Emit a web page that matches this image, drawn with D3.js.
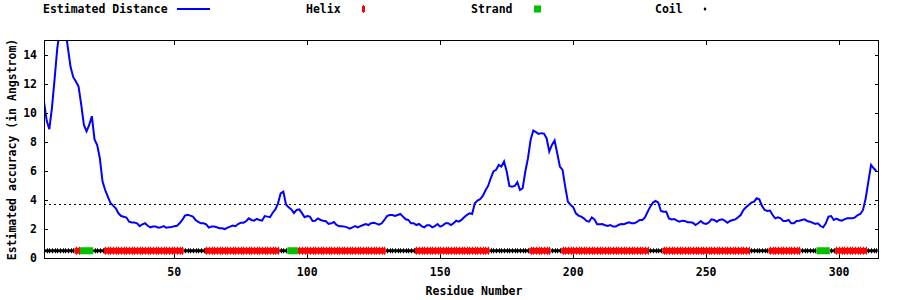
<!DOCTYPE html>
<html>
<head>
<meta charset="UTF-8">
<title>Estimated accuracy</title>
<script src="https://d3js.org/d3.v7.min.js"></script>
<style>
    body, html { margin: 0; padding: 0; background: #fff; }
    text { font-family: "DejaVu Sans Mono", monospace; font-size: 11.5px; font-weight: bold; fill: #000; }
</style>
</head>
<body>
<div id="chart"></div>
<script>
    // estimated distance per residue (residue 1..314)
    const distance = [
        10.8, 9.5, 8.9, 10.4, 12.4, 14.5, 15.8, 16.5, 15.8, 14.5,
        13.2, 12.5, 12.2, 11.85, 10.6, 9.2, 8.75, 9.2, 9.8, 8.2,
        7.8, 6.9, 5.3, 4.7, 4.25, 3.8, 3.62, 3.44, 3.09, 2.9,
        2.85, 2.8, 2.51, 2.45, 2.45, 2.4, 2.2, 2.33, 2.4, 2.23,
        2.12, 2.17, 2.17, 2.1, 2.12, 2.2, 2.1, 2.12, 2.14, 2.2,
        2.23, 2.4, 2.63, 2.93, 2.98, 2.93, 2.86, 2.63, 2.5, 2.4,
        2.4, 2.33, 2.1, 2.17, 2.17, 2.12, 2.06, 2.06, 2.0, 2.1,
        2.17, 2.24, 2.2, 2.35, 2.44, 2.44, 2.54, 2.74, 2.63, 2.58,
        2.7, 2.63, 2.58, 2.9, 2.86, 2.82, 3.13, 3.36, 3.78, 4.47,
        4.59, 3.7, 3.5, 3.36, 3.1, 3.33, 3.36, 3.1, 2.82, 2.9,
        2.86, 2.56, 2.58, 2.74, 2.63, 2.58, 2.54, 2.35, 2.4, 2.49,
        2.28, 2.2, 2.2, 2.17, 2.12, 2.03, 2.12, 2.2, 2.12, 2.2,
        2.28, 2.35, 2.28, 2.4, 2.44, 2.38, 2.3, 2.4, 2.63, 2.9,
        2.97, 2.97, 2.9, 2.97, 3.04, 2.86, 2.68, 2.63, 2.4, 2.4,
        2.28, 2.35, 2.21, 2.12, 2.26, 2.26, 2.12, 2.21, 2.35, 2.17,
        2.26, 2.4, 2.4, 2.28, 2.4, 2.58, 2.51, 2.63, 2.81, 2.97,
        3.09, 3.04, 3.78, 3.97, 4.06, 4.29, 4.66, 4.98, 5.51, 5.98,
        6.09, 6.43, 6.32, 6.67, 5.98, 4.98, 4.93, 4.98, 5.24, 4.7,
        4.82, 5.98, 6.9, 8.17, 8.81, 8.7, 8.58, 8.63, 8.6, 8.28,
        7.36, 7.82, 8.12, 7.24, 6.32, 6.09, 4.93, 3.9, 3.67, 3.51,
        3.09, 2.93, 2.86, 2.74, 2.56, 2.51, 2.81, 2.67, 2.33, 2.33,
        2.35, 2.26, 2.21, 2.28, 2.17, 2.17, 2.28, 2.35, 2.33, 2.4,
        2.47, 2.4, 2.4, 2.49, 2.63, 2.63, 2.81, 3.2, 3.55, 3.83,
        3.94, 3.83, 3.25, 3.2, 3.2, 2.74, 2.67, 2.7, 2.58, 2.51,
        2.58, 2.56, 2.47, 2.47, 2.44, 2.28, 2.4, 2.56, 2.4, 2.35,
        2.45, 2.67, 2.63, 2.51, 2.63, 2.67, 2.58, 2.44, 2.56, 2.63,
        2.67, 2.81, 2.97, 3.32, 3.51, 3.67, 3.83, 3.9, 4.13, 4.06,
        3.6, 3.32, 3.25, 3.28, 2.97, 2.74, 2.81, 2.74, 2.56, 2.56,
        2.63, 2.4, 2.4, 2.56, 2.58, 2.63, 2.67, 2.56, 2.51, 2.44,
        2.35, 2.4, 2.21, 2.12, 2.4, 2.86, 2.9, 2.63, 2.72, 2.63,
        2.58, 2.67, 2.74, 2.74, 2.74, 2.81, 2.97, 3.04, 3.32, 4.13,
        5.28, 6.43, 6.2, 6.02
    ];

    // secondary structure segments: H helix, E strand, C coil
    const ssType  = ["C", "H", "E", "C", "H", "C", "H", "C", "E", "H", "C", "H", "C", "H", "C", "H", "C", "H", "C", "H", "C", "E", "C", "H", "C"];
    const ssStart = [1,   13,  15,  20,  24,  54,  62,  90,  93,  97,  130, 141, 169, 184, 192, 196, 229, 234, 267, 274, 286, 292, 297, 299, 311];
    const ssEnd   = [12,  14,  19,  23,  53,  61,  89,  92,  96,  129, 140, 168, 183, 191, 195, 228, 233, 266, 273, 285, 291, 296, 298, 310, 314];
    const ssLevel = 0.5;

    const threshold = 3.72;
    const xTicks = [50, 100, 150, 200, 250, 300];
    const yTicks = [0, 2, 4, 6, 8, 10, 12, 14];
    const xDomain = [1, 315];
    const yDomain = [0, 15];

    const width = 900, height = 300;
    const plotLeft = 44, plotRight = 879, plotTop = 41, plotBottom = 258;

    const svg = d3.select("#chart").append("svg")
        .attr("width", width)
        .attr("height", height);

    const x = d3.scaleLinear().domain(xDomain).range([plotLeft, plotRight]);
    const y = d3.scaleLinear().domain(yDomain).range([plotBottom, plotTop]);

    svg.append("clipPath").attr("id", "plotClip")
        .append("rect")
        .attr("x", plotLeft).attr("y", plotTop)
        .attr("width", plotRight - plotLeft).attr("height", plotBottom - plotTop);

    // ticks (inward, mirrored)
    const tickLen = 4;
    const ticks = svg.append("g").attr("stroke", "#000").attr("stroke-width", 1).attr("shape-rendering", "crispEdges");
    yTicks.forEach(t => {
        const yy = Math.round(y(t)) + 0.5;
        ticks.append("line").attr("x1", plotLeft).attr("x2", plotLeft + tickLen).attr("y1", yy).attr("y2", yy);
        ticks.append("line").attr("x1", plotRight - tickLen).attr("x2", plotRight).attr("y1", yy).attr("y2", yy);
        svg.append("text").attr("x", 37).attr("y", y(t)).attr("dy", "0.35em")
            .attr("text-anchor", "end").text(t);
    });
    xTicks.forEach(t => {
        const xx = Math.round(x(t)) + 0.5;
        ticks.append("line").attr("x1", xx).attr("x2", xx).attr("y1", plotBottom).attr("y2", plotBottom - tickLen);
        ticks.append("line").attr("x1", xx).attr("x2", xx).attr("y1", plotTop).attr("y2", plotTop + tickLen);
        svg.append("text").attr("x", x(t)).attr("y", 272).attr("dy", "0.35em")
            .attr("text-anchor", "middle").text(t);
    });

    const plot = svg.append("g").attr("clip-path", "url(#plotClip)");

    // threshold dotted line
    plot.append("line")
        .attr("x1", plotLeft).attr("x2", plotRight)
        .attr("y1", Math.round(y(threshold)) + 0.5).attr("y2", Math.round(y(threshold)) + 0.5)
        .attr("stroke", "#000").attr("stroke-width", 1)
        .attr("stroke-dasharray", "2,3")
        .attr("shape-rendering", "crispEdges");

    // secondary structure track
    const ssColor = { H: "#ff0000", E: "#00c000", C: "#000000" };
    const ssBand = { H: 6, E: 7, C: 3 };
    const ssMark = { H: 8, E: 7, C: 5 };
    const yss = y(ssLevel);
    const segs = ssType.map((t, i) => ({ type: t, start: ssStart[i], end: ssEnd[i] }));
    const ssOrder = ["C", "H", "E"];
    ssOrder.forEach(kind => {
        segs.filter(s => s.type === kind).forEach(s => {
            plot.append("rect")
                .attr("x", x(s.start - 0.5))
                .attr("y", yss - ssBand[kind] / 2)
                .attr("width", x(s.end + 0.5) - x(s.start - 0.5))
                .attr("height", ssBand[kind])
                .attr("fill", ssColor[kind]);
            if (kind !== "E") {
                for (let r = s.start; r <= s.end; r++) {
                    plot.append("rect")
                        .attr("x", Math.round(x(r)))
                        .attr("y", yss - ssMark[kind] / 2)
                        .attr("width", 1)
                        .attr("height", ssMark[kind])
                        .attr("fill", ssColor[kind]);
                }
            }
        });
    });

    // estimated distance line
    const line = d3.line()
        .x((d, i) => x(i + 1))
        .y(d => y(d));
    plot.append("path")
        .datum(distance)
        .attr("d", line)
        .attr("fill", "none")
        .attr("stroke", "#0000ff")
        .attr("stroke-width", 2);

    // frame
    svg.append("rect")
        .attr("x", plotLeft + 0.5).attr("y", plotTop - 0.5)
        .attr("width", plotRight - plotLeft - 1).attr("height", plotBottom - plotTop + 1)
        .attr("fill", "none").attr("stroke", "#000").attr("stroke-width", 1)
        .attr("shape-rendering", "crispEdges");

    // axis labels
    svg.append("text").attr("x", 474).attr("y", 291).attr("dy", "0.35em")
        .attr("text-anchor", "middle").text("Residue Number");
    svg.append("text")
        .attr("transform", "translate(12," + ((plotTop + plotBottom) / 2) + ") rotate(-90)")
        .attr("dy", "0.35em")
        .attr("text-anchor", "middle").text("Estimated accuracy (in Angstrom)");

    // legend
    const legY = 9;
    const legend = svg.append("g");
    legend.append("text").attr("x", 43).attr("y", legY).attr("dy", "0.35em").text("Estimated Distance");
    legend.append("line").attr("x1", 177).attr("x2", 210).attr("y1", legY).attr("y2", legY)
        .attr("stroke", "#0000ff").attr("stroke-width", 2);
    legend.append("text").attr("x", 306).attr("y", legY).attr("dy", "0.35em").text("Helix");
    legend.append("rect").attr("x", 362).attr("y", legY - 3).attr("width", 3).attr("height", 6).attr("fill", "#ff0000");
    legend.append("rect").attr("x", 363).attr("y", legY - 4).attr("width", 1).attr("height", 8).attr("fill", "#ff0000");
    legend.append("text").attr("x", 471).attr("y", legY).attr("dy", "0.35em").text("Strand");
    legend.append("rect").attr("x", 534).attr("y", legY - 3.5).attr("width", 7).attr("height", 7).attr("fill", "#00c000");
    legend.append("text").attr("x", 655).attr("y", legY).attr("dy", "0.35em").text("Coil");
    legend.append("path").attr("d", "M705,7 L706.5,9 L705,11 L703.5,9 Z").attr("fill", "#000");
</script>
</body>
</html>
